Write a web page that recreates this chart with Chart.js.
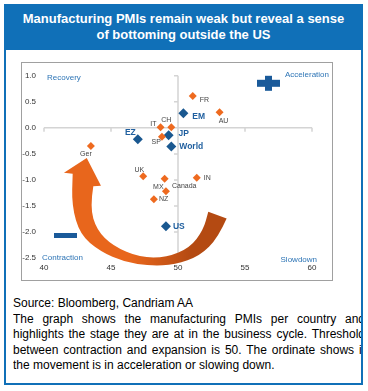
<!DOCTYPE html>
<html>
<head>
<meta charset="utf-8">
<script src="https://cdn.jsdelivr.net/npm/chart.js@4"></script>
<style>
  body { margin: 0; background: #fff; font-family: Arial, "Liberation Sans", sans-serif; }
  #page { position: relative; width: 368px; height: 391px; overflow: hidden; }
  #frame { position: absolute; left: 4px; top: 4px; width: 359px; height: 381px; box-sizing: border-box;
           border: 2px solid #1070b8; border-top: none; }
  #header { position: absolute; left: 4px; top: 4px; width: 359px; height: 46px; background: #1070b8;
            color: #fff; font-weight: bold; font-size: 13px; line-height: 16px; text-align: center;
            box-sizing: border-box; padding-top: 7px; }
  #box { position: absolute; left: 21px; top: 62px; width: 310px; height: 217px; border: 1px solid #a0a0a0; }
  #notes { position: absolute; left: 13px; top: 296px; width: 348px; height: 80px; overflow: hidden;
           font-size: 12px; line-height: 15.5px; color: #000; }
  #notes div { width: 352px; white-space: nowrap; }
  #notes .j { text-align: justify; text-align-last: justify; }
</style>
</head>
<body>
<div id="page">
  <div id="frame"></div>
  <div id="header">Manufacturing PMIs remain weak but reveal a sense<br>of bottoming outside the US</div>
  <div id="box"><canvas id="chart" width="310" height="217"></canvas></div>
  <div id="notes">
    <div>Source: Bloomberg, Candriam AA</div>
    <div class="j">The graph shows the manufacturing PMIs per country and</div>
    <div class="j">highlights the stage they are at in the business cycle. Threshold</div>
    <div class="j">between contraction and expansion is 50. The ordinate shows if</div>
    <div>the movement is in acceleration or slowing down.</div>
  </div>
</div>
<script>
// country PMIs (orange) and momentum
const countries = ['FR', 'AU', 'IT', 'CH', 'SP', 'Ger', 'UK', 'MX', 'Canada', 'IN', 'NZ'];
const countryPmi = [51.1, 53.1, 48.7, 49.5, 48.8, 43.5, 47.4, 49.0, 49.1, 51.4, 48.2];
const countryMomentum = [0.61, 0.30, 0.01, 0.01, -0.17, -0.35, -0.93, -0.98, -1.22, -0.96, -1.37];

// regions (blue)
const regions = ['EM', 'JP', 'EZ', 'World', 'US'];
const regionPmi = [50.4, 49.3, 47.0, 49.5, 49.1];
const regionMomentum = [0.28, -0.14, -0.22, -0.36, -1.89];

const xTicks = [40, 45, 50, 55, 60];
const yTicks = [1.0, 0.5, 0.0, -0.5, -1.0, -1.5, -2.0, -2.5];

// label offsets (px) and alignment for each point
const countryLabelPos = [
  [7, 4, 'left'], [4, 9, 'center'], [-4, -3, 'right'], [-5, -7, 'center'], [-1, 5, 'right'],
  [-5, 8, 'center'], [1, -6, 'right'], [-1, 8, 'right'], [6, -5, 'left'], [7, 0, 'left'], [5, 0, 'left']
];
const regionLabelPos = [[9, 3, 'left'], [10, -1, 'left'], [-2, -7, 'right'], [8, 0, 'left'], [7, 0, 'left']];

const orange = '#ee6a1f';
const blue = '#1a5890';

// curved arrow outline, in axis units
const arrowHead = [[43.19, -0.58], [44.25, -1.11], [43.68, -1.12]];
const arrowInner = [[43.43, -1.52], [43.93, -1.96], [45.15, -2.27], [47.16, -2.49], [49.16, -2.49],
                    [50.90, -2.30], [51.89, -1.96], [52.26, -1.61]];
const arrowOuter = [[53.63, -1.74], [52.99, -2.11], [51.64, -2.46], [49.78, -2.63], [47.91, -2.65],
                    [46.04, -2.58], [44.18, -2.37], [42.69, -2.05], [42.07, -1.49], [42.14, -0.88]];
const arrowBarb = [41.49, -0.86];

function smooth(ctx, pts) {
  for (let i = 1; i < pts.length - 1; i++) {
    const mx = (pts[i][0] + pts[i + 1][0]) / 2, my = (pts[i][1] + pts[i + 1][1]) / 2;
    ctx.quadraticCurveTo(pts[i][0], pts[i][1], mx, my);
  }
  ctx.lineTo(pts[pts.length - 1][0], pts[pts.length - 1][1]);
}

const decor = {
  id: 'decor',
  beforeDatasetsDraw(chart) {
    const { ctx, scales: { x, y } } = chart;
    const px = p => [x.getPixelForValue(p[0]), y.getPixelForValue(p[1])];
    ctx.save();
    // cross axes at 50 / 0
    ctx.strokeStyle = '#d4d4d4';
    ctx.lineWidth = 1.5;
    const x50 = x.getPixelForValue(50), y0 = y.getPixelForValue(0);
    ctx.beginPath();
    ctx.moveTo(x.left, y0); ctx.lineTo(x.right, y0);
    ctx.moveTo(x50, y.top); ctx.lineTo(x50, y.bottom);
    xTicks.forEach(v => { const p = x.getPixelForValue(v); ctx.moveTo(p, y0); ctx.lineTo(p, y0 + 4); });
    yTicks.forEach(v => { const p = y.getPixelForValue(v); ctx.moveTo(x50 - 4, p); ctx.lineTo(x50, p); });
    ctx.stroke();

    // curved arrow
    const head = arrowHead.map(px);
    const inner = arrowInner.map(px);
    const outer = arrowOuter.map(px);
    const grad = ctx.createLinearGradient(x.getPixelForValue(46.5), 0, x.getPixelForValue(51), 0);
    grad.addColorStop(0, '#e8661c');
    grad.addColorStop(1, '#b44a12');
    ctx.fillStyle = grad;
    ctx.beginPath();
    ctx.moveTo(head[0][0], head[0][1]);
    ctx.lineTo(head[1][0], head[1][1]);
    ctx.lineTo(head[2][0], head[2][1]);
    smooth(ctx, [head[2]].concat(inner));
    ctx.lineTo(outer[0][0], outer[0][1]);
    smooth(ctx, outer);
    const b = px(arrowBarb);
    ctx.lineTo(b[0], b[1]);
    ctx.closePath();
    ctx.fill();
    ctx.restore();
  },
  afterDatasetsDraw(chart) {
    const { ctx } = chart;
    ctx.save();
    ctx.textBaseline = 'middle';
    const draw = (meta, names, pos, font, color) => {
      ctx.font = font; ctx.fillStyle = color;
      meta.data.forEach((pt, i) => {
        ctx.textAlign = pos[i][2];
        ctx.fillText(names[i], pt.x + pos[i][0], pt.y + pos[i][1]);
      });
    };
    draw(chart.getDatasetMeta(0), countries, countryLabelPos, '7px Arial', '#444');
    draw(chart.getDatasetMeta(1), regions, regionLabelPos, 'bold 8.5px Arial', '#1f5f9f');

    // quadrant captions and signs
    const a = chart.chartArea;
    ctx.font = '8px Arial';
    ctx.fillStyle = '#2e75b6';
    ctx.textAlign = 'left';
    ctx.fillText('Recovery', a.left + 3, a.top + 2);
    ctx.fillText('Contraction', a.left - 2, a.bottom);
    ctx.textAlign = 'right';
    ctx.fillText('Acceleration', a.right + 17, a.top - 1);
    ctx.fillText('Slowdown', a.right + 5, a.bottom + 2);
    ctx.fillStyle = '#1a5a9a';
    ctx.fillRect(a.right - 55, a.top + 4, 23, 7);
    ctx.fillRect(a.right - 47, a.top, 7, 15);
    ctx.fillRect(a.left + 10, a.bottom - 25, 23, 5);
    ctx.restore();
  }
};

new Chart(document.getElementById('chart'), {
  type: 'scatter',
  data: {
    datasets: [
      {
        label: 'Countries',
        data: countries.map((c, i) => ({ x: countryPmi[i], y: countryMomentum[i] })),
        pointStyle: 'rectRot', pointRadius: 4, pointHoverRadius: 4,
        backgroundColor: orange, borderColor: orange, borderWidth: 0
      },
      {
        label: 'Regions',
        data: regions.map((r, i) => ({ x: regionPmi[i], y: regionMomentum[i] })),
        pointStyle: 'rectRot', pointRadius: 5, pointHoverRadius: 5,
        backgroundColor: blue, borderColor: blue, borderWidth: 0
      }
    ]
  },
  options: {
    responsive: false,
    animation: false,
    devicePixelRatio: 1,
    layout: { padding: { top: 9, right: 20, left: 0, bottom: 0 } },
    plugins: { legend: { display: false }, tooltip: { enabled: false } },
    scales: {
      x: {
        type: 'linear', min: 40, max: 60,
        grid: { display: false, drawTicks: false }, border: { display: false },
        afterBuildTicks: s => { s.ticks = xTicks.map(v => ({ value: v })); },
        afterFit: s => { s.height = 22; },
        ticks: { padding: 5, color: '#333', font: { family: 'Arial', size: 8 }, maxRotation: 0 }
      },
      y: {
        type: 'linear', min: -2.5, max: 1.0,
        grid: { display: false, drawTicks: false }, border: { display: false },
        afterBuildTicks: s => { s.ticks = yTicks.map(v => ({ value: v })); },
        afterFit: s => { s.width = 22; },
        ticks: { padding: 8, color: '#333', font: { family: 'Arial', size: 8 }, callback: v => v.toFixed(1) }
      }
    }
  },
  plugins: [decor]
});
</script>
</body>
</html>
